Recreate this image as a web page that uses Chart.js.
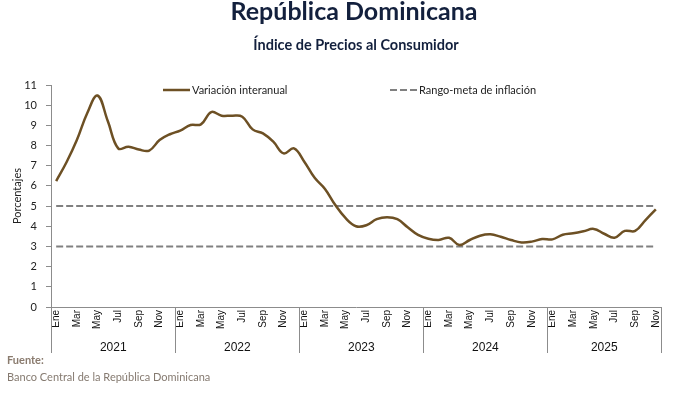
<!DOCTYPE html>
<html>
<head>
<meta charset="utf-8">
<script src="https://cdn.jsdelivr.net/npm/chart.js@4.4.1/dist/chart.umd.min.js"></script>
<style>
  html, body { margin: 0; padding: 0; background: #fff; }
  #wrap { width: 691px; height: 395px; position: relative; }
</style>
</head>
<body>
<div id="wrap"><canvas id="MyChart"></canvas></div>
<script>
const meses = ['Ene', 'Feb', 'Mar', 'Abr', 'May', 'Jun', 'Jul', 'Ago', 'Sep', 'Oct', 'Nov', 'Dic']
const anios = ['2021', '2022', '2023', '2024', '2025']

// variacion interanual del IPC, Ene 2021 - Nov 2025
const inflacion = [
    6.24, 7.17, 8.27, 9.60, 10.48, 9.20, 7.86, 7.94, 7.80, 7.75, 8.27, 8.56,
    8.74, 9.02, 9.05, 9.66, 9.48, 9.48, 9.43, 8.80, 8.60, 8.19, 7.61, 7.86,
    7.20, 6.40, 5.85, 5.05, 4.40, 4.00, 4.05, 4.35, 4.45, 4.35, 3.95, 3.57,
    3.38, 3.32, 3.43, 3.07, 3.32, 3.53, 3.60, 3.48, 3.32, 3.20, 3.24, 3.37,
    3.35, 3.58, 3.65, 3.75, 3.87, 3.63, 3.43, 3.77, 3.77, 4.31, 4.84
]
const rangoMeta = [5, 3]
const yTicks = [0, 1, 2, 3, 4, 5, 6, 7, 8, 9, 10, 11]

const etiquetas = []
anios.forEach(a => meses.forEach(m => etiquetas.push(m + ' ' + a)))
const labels = etiquetas.slice(0, inflacion.length)
const ultimo = inflacion.length - 1

const brown = '#6d5024'
const gray = '#808080'
const axisGray = '#8c8c8c'

const extras = {
    id: 'extras',
    afterDraw(chart){
        const ctx = chart.ctx
        const x = chart.scales.x
        const area = chart.chartArea
        ctx.save()

        // titulos
        ctx.textAlign = 'center'
        ctx.textBaseline = 'middle'
        ctx.fillStyle = '#13203d'
        ctx.font = 'bold 25px Lato'
        ctx.fillText('República Dominicana', 354, 12)
        ctx.font = 'bold 14.5px Lato'
        ctx.fillText('Índice de Precios al Consumidor', 356, 45)

        // leyenda
        ctx.lineWidth = 2.5
        ctx.strokeStyle = brown
        ctx.beginPath(); ctx.moveTo(163, 90); ctx.lineTo(190, 90); ctx.stroke()
        ctx.lineWidth = 2
        ctx.strokeStyle = gray
        ctx.setLineDash([7, 3])
        ctx.beginPath(); ctx.moveTo(390, 90); ctx.lineTo(417, 90); ctx.stroke()
        ctx.setLineDash([])
        ctx.fillStyle = '#222'
        ctx.font = '11px Lato'
        ctx.textAlign = 'left'
        ctx.fillText('Variación interanual', 192, 90)
        ctx.fillText('Rango-meta de inflación', 419, 90)

        // años y separadores
        const paso = x.getPixelForValue(1) - x.getPixelForValue(0)
        ctx.strokeStyle = axisGray
        ctx.lineWidth = 1
        ctx.font = '12px "Liberation Sans"'
        ctx.textAlign = 'center'
        ctx.fillStyle = '#111'
        anios.forEach((a, i) => {
            const first = i * 12
            const last = Math.min(first + 11, ultimo)
            const x0 = Math.round(x.getPixelForValue(first) - paso / 2) + 0.5
            const x1 = x.getPixelForValue(last) + paso / 2
            ctx.beginPath(); ctx.moveTo(x0, area.bottom); ctx.lineTo(x0, area.bottom + 46); ctx.stroke()
            ctx.fillText(a, (x0 + x1) / 2, area.bottom + 41)
        })
        const xf = Math.round(x.getPixelForValue(ultimo) + paso / 2) + 0.5
        ctx.beginPath(); ctx.moveTo(xf, area.bottom); ctx.lineTo(xf, area.bottom + 46); ctx.stroke()

        // fuente
        ctx.textAlign = 'left'
        ctx.fillStyle = '#8a7b6e'
        ctx.font = 'bold 11px Lato'
        ctx.fillText('Fuente:', 7, 360)
        ctx.font = '11px Lato'
        ctx.fillStyle = '#857a70'
        ctx.fillText('Banco Central de la República Dominicana', 7, 377)
        ctx.restore()
    }
}

const ctx = document.getElementById('MyChart').getContext('2d')

new Chart(ctx, {
    type: 'line',
    data: {
        labels: labels,
        datasets: [
            {
                label: 'Variación interanual',
                data: inflacion,
                borderColor: brown,
                borderWidth: 2.5,
                tension: 0.4,
                pointRadius: 0,
                order: 0,
            },
            {
                label: 'Rango-meta de inflación',
                data: [{x: labels[0], y: rangoMeta[0]}, {x: labels[ultimo], y: rangoMeta[0]}],
                borderColor: gray,
                borderWidth: 2,
                borderDash: [7, 3],
                pointRadius: 0,
                order: 1,
            },
            {
                label: 'Rango-meta inferior',
                data: [{x: labels[0], y: rangoMeta[1]}, {x: labels[ultimo], y: rangoMeta[1]}],
                borderColor: gray,
                borderWidth: 2,
                borderDash: [7, 3],
                pointRadius: 0,
                order: 1,
            }
        ]
    },
    options: {
        responsive: true,
        maintainAspectRatio: false,
        animation: false,
        layout: { padding: { left: 0, right: 30, top: 85, bottom: 40 } },
        plugins: {
            legend: { display: false },
            tooltip: { enabled: false },
        },
        scales: {
            x: {
                type: 'category',
                offset: true,
                afterFit: s => { s.height = 48 },
                grid: { display: false, drawTicks: false },
                border: { display: true, color: axisGray, width: 1 },
                ticks: {
                    autoSkip: false,
                    minRotation: 90,
                    maxRotation: 90,
                    padding: 3,
                    color: '#111',
                    font: { family: '"Liberation Sans"', size: 10 },
                    callback: (value, index) => index % 2 === 0 ? meses[index % 12] : '',
                },
            },
            y: {
                min: yTicks[0],
                max: yTicks[yTicks.length - 1],
                afterFit: s => { s.width = 51 },
                afterBuildTicks: s => { s.ticks = yTicks.map(v => ({ value: v })) },
                grid: { drawOnChartArea: false, drawTicks: true, tickLength: 5, color: axisGray },
                border: { display: true, color: axisGray, width: 1 },
                ticks: {
                    padding: 9,
                    color: '#222',
                    font: { family: 'Lato', size: 11 },
                },
                title: {
                    display: true,
                    text: 'Porcentajes',
                    color: '#222',
                    padding: { top: 11, bottom: 0 },
                    font: { family: 'Lato', size: 11 },
                },
            }
        }
    },
    plugins: [extras]
})
</script>
</body>
</html>
